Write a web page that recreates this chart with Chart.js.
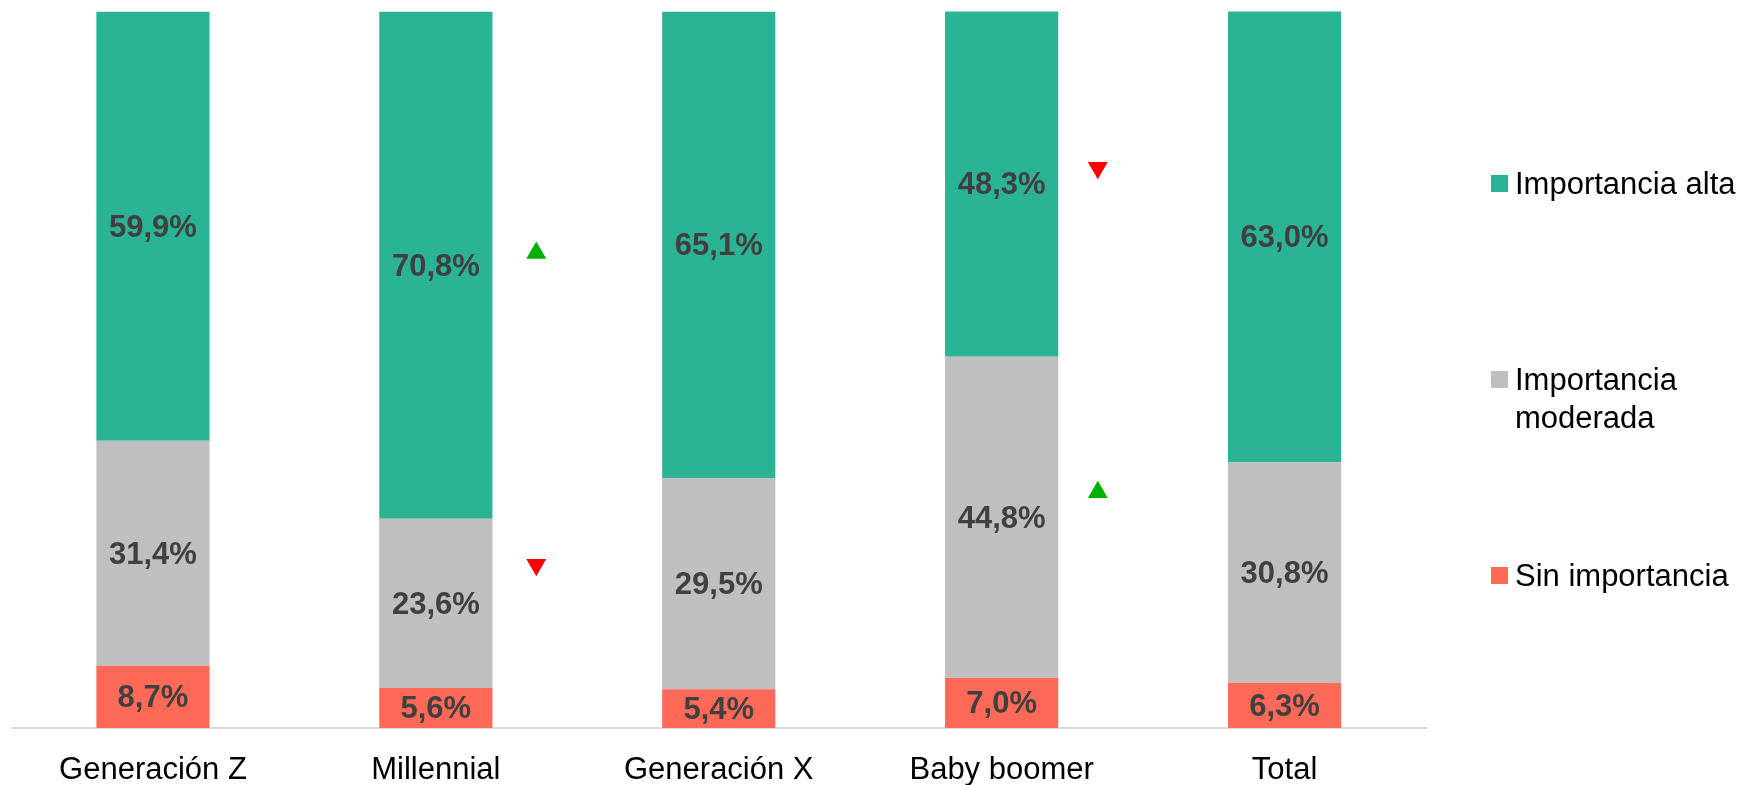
<!DOCTYPE html>
<html lang="es">
<head>
<meta charset="utf-8">
<title>Importancia por generación</title>
<script src="https://cdn.jsdelivr.net/npm/chart.js@4/dist/chart.umd.min.js"></script>
<style>
    html, body { margin: 0; padding: 0; background: #ffffff; }
    #wrap { width: 1747px; height: 785px; }
</style>
</head>
<body>
<div id="wrap">
    <canvas id="chart" width="1747" height="785"></canvas>
</div>
<script>
// Categories and series (percentages)
const categories = ['Generación Z', 'Millennial', 'Generación X', 'Baby boomer', 'Total'];
const sinImportancia = [8.7, 5.6, 5.4, 7.0, 6.3];
const importanciaModerada = [31.4, 23.6, 29.5, 44.8, 30.8];
const importanciaAlta = [59.9, 70.8, 65.1, 48.3, 63.0];
const seriesNames = ['Sin importancia', 'Importancia moderada', 'Importancia alta'];
const seriesColors = ['#FF6A58', '#BFBFBF', '#2BB396'];

// Significance arrows (x = category index + offset, y = percent)
const flechasSube = [{ x: 1.355, y: 66.3 }, { x: 3.34, y: 32.9 }];
const flechasBaja = [{ x: 1.355, y: 22.8 }, { x: 3.34, y: 78.2 }];

const FONT = "'Liberation Sans', Arial, sans-serif";

function formatPct(v) {
    return v.toFixed(1).replace('.', ',') + '%';
}

// Values written in the middle of each segment
const segmentLabels = {
    id: 'segmentLabels',
    afterDatasetsDraw(chart) {
        const ctx = chart.ctx;
        ctx.save();
        ctx.font = 'bold 31px ' + FONT;
        ctx.fillStyle = '#404040';
        ctx.textAlign = 'center';
        ctx.textBaseline = 'middle';
        chart.data.datasets.forEach((ds, i) => {
            if (ds.type !== 'bar') return;
            const meta = chart.getDatasetMeta(i);
            meta.data.forEach((bar, j) => {
                const y = (bar.y + bar.base) / 2 + 2;
                ctx.fillText(formatPct(ds.data[j]), bar.x, y);
            });
        });
        ctx.restore();
    }
};

// Legend on the right, top series first
const sideLegend = {
    id: 'sideLegend',
    afterDraw(chart, args, opts) {
        const ctx = chart.ctx;
        const x = chart.chartArea.right + opts.offsetX;
        ctx.save();
        ctx.font = '31px ' + FONT;
        ctx.textBaseline = 'middle';
        ctx.textAlign = 'left';
        const bars = chart.data.datasets.filter(ds => ds.type === 'bar').slice().reverse();
        bars.forEach((ds, i) => {
            const y = opts.top + i * opts.step;
            ctx.fillStyle = ds.backgroundColor;
            ctx.fillRect(x, y - 9, 17, 17);
            ctx.fillStyle = '#000000';
            // wrap long names onto a second line
            const words = ds.label.split(' ');
            let lines = [ds.label];
            if (ctx.measureText(ds.label).width > opts.maxWidth) {
                lines = [words.slice(0, -1).join(' '), words[words.length - 1]];
            }
            lines.forEach((line, k) => ctx.fillText(line, x + 24, y + 1 + k * 38));
        });
        ctx.restore();
    }
};

const ctx = document.getElementById('chart');

new Chart(ctx, {
    type: 'bar',
    data: {
        labels: categories,
        datasets: [
            { type: 'bar', label: seriesNames[0], data: sinImportancia, backgroundColor: seriesColors[0] },
            { type: 'bar', label: seriesNames[1], data: importanciaModerada, backgroundColor: seriesColors[1] },
            { type: 'bar', label: seriesNames[2], data: importanciaAlta, backgroundColor: seriesColors[2] },
            {
                type: 'scatter', label: 'sube', data: flechasSube, xAxisID: 'x2', yAxisID: 'y2',
                pointStyle: 'triangle', pointRadius: 11.5, pointRotation: 0,
                backgroundColor: '#00B000', borderWidth: 0
            },
            {
                type: 'scatter', label: 'baja', data: flechasBaja, xAxisID: 'x2', yAxisID: 'y2',
                pointStyle: 'triangle', pointRadius: 11.5, pointRotation: 180,
                backgroundColor: '#FF0000', borderWidth: 0
            }
        ]
    },
    options: {
        responsive: false,
        animation: false,
        datasets: {
            bar: { barPercentage: 0.4, categoryPercentage: 1.0, grouped: false }
        },
        layout: { padding: { left: 9, right: 321, top: 7, bottom: 0 } },
        scales: {
            x: {
                type: 'category',
                offset: true,
                stacked: true,
                grid: { display: false, drawTicks: false },
                border: { display: true, color: '#D9D9D9', width: 2 },
                ticks: { color: '#000000', font: { family: FONT, size: 31 }, padding: 24, maxRotation: 0 },
                afterFit(scale) { scale.height = 57; }
            },
            y: {
                stacked: true,
                min: 0,
                max: 100,
                display: false
            },
            x2: { type: 'linear', min: -0.5, max: 4.5, offset: false, display: false },
            y2: { type: 'linear', min: 0, max: 100, offset: false, display: false }
        },
        plugins: {
            legend: { display: false },
            tooltip: { enabled: false },
            sideLegend: { offsetX: 65, top: 184, step: 196, maxWidth: 236 }
        }
    },
    plugins: [segmentLabels, sideLegend]
});
</script>
</body>
</html>
